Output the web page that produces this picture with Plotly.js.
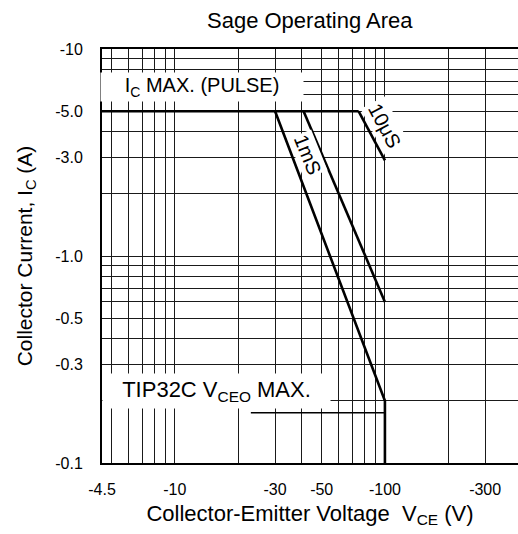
<!DOCTYPE html>
<html>
<head>
<meta charset="utf-8">
<script src="https://cdn.plot.ly/plotly-3.0.1.min.js"></script>
<style>html,body{margin:0;padding:0;background:#fff;}#chart{width:518px;height:534px;}</style>
</head>
<body>
<div id="chart"></div>
<script>
// Magnitudes (the chart labels them as negative values: PNP transistor)
const icMaxV = [4.5, 75];
const icMaxI = [5, 5];
const pulse10usV = [75, 100];
const pulse10usI = [5, 2.9];
const pulse1msV = [41, 100];
const pulse1msI = [5, 0.6];
const dcV = [30, 100, 100];
const dcI = [5, 0.2, 0.1];
const vceoV = [23, 100];
const vceoI = [0.175, 0.175];

const xTickVals = [4.5, 10, 30, 50, 100, 300];
const xTickText = ['-4.5', '-10', '-30', '-50', '-100', '-300'];
const xGridVals = [5, 6, 7, 8, 9, 20, 40, 60, 70, 80, 90, 200];
const yTickVals = [0.1, 0.3, 0.5, 1, 3, 5, 10];
const yTickText = ['-0.1', '-0.3', '-0.5', '-1.0', '-3.0', '-5.0', '-10'];
const yGridVals = [0.2, 0.4, 0.6, 0.7, 0.8, 0.9, 2, 4, 6, 7, 8, 9];

const FONT = 'Liberation Sans, Arial, Helvetica, sans-serif';
const thick = {color: '#000', width: 2.6};
const GRID = '#1a1a1a';

const traces = [
  {x: icMaxV, y: icMaxI, mode: 'lines', line: thick},
  {x: pulse10usV, y: pulse10usI, mode: 'lines', line: thick},
  {x: pulse1msV, y: pulse1msI, mode: 'lines', line: thick},
  {x: dcV, y: dcI, mode: 'lines', line: thick},
  {x: vceoV, y: vceoI, mode: 'lines', line: {color: '#000', width: 1.4}}
];

const axisCommon = {
  type: 'log',
  showgrid: true,
  gridcolor: GRID,
  gridwidth: 1,
  zeroline: false,
  showline: true,
  linecolor: '#000',
  linewidth: 2,
  ticks: '',
  tickmode: 'array',
  tickfont: {family: FONT, size: 16, color: '#000'},
  fixedrange: true
};

const layout = {
  width: 518,
  height: 534,
  margin: {l: 102, r: 0, t: 49, b: 71},
  paper_bgcolor: '#fff',
  plot_bgcolor: '#fff',
  showlegend: false,
  font: {family: FONT, color: '#000'},
  title: {
    text: 'Sage Operating Area',
    font: {family: FONT, size: 22, color: '#000'},
    x: 0.598, xanchor: 'center',
    y: 0.962, yanchor: 'middle', yref: 'container'
  },
  xaxis: Object.assign({}, axisCommon, {
    range: [Math.log10(4.5), Math.log10(430)],
    tickvals: xTickVals,
    ticktext: xTickText,
    minor: {tickmode: 'array', tickvals: xGridVals, showgrid: true, gridcolor: GRID, gridwidth: 1, ticks: ''},
    mirror: true,
    ticklabelstandoff: 11,
    title: {text: 'Collector-Emitter Voltage\u00a0\u00a0V<sub>CE</sub> (V)', font: {family: FONT, size: 22, color: '#000'}, standoff: 8}
  }),
  yaxis: Object.assign({}, axisCommon, {
    range: [-1, 1],
    tickvals: yTickVals,
    ticktext: yTickText,
    minor: {tickmode: 'array', tickvals: yGridVals, showgrid: true, gridcolor: GRID, gridwidth: 1, ticks: ''},
    ticklabelstandoff: 14,
    title: {text: 'Collector Current, I<sub>C</sub> (A)', font: {family: FONT, size: 21, color: '#000'}, standoff: 17}
  }),
  annotations: [
    {xref: 'paper', yref: 'paper', x: 0.24, y: 0.908, xanchor: 'center', yanchor: 'middle',
     text: 'I<sub>C</sub> MAX. (PULSE)', showarrow: false, bgcolor: '#fff', width: 200, height: 26,
     font: {family: FONT, size: 20, color: '#000'}},
    {xref: 'paper', yref: 'paper', x: 0.276, y: 0.174, xanchor: 'center', yanchor: 'middle',
     text: 'TIP32C V<sub>CEO</sub> MAX.', showarrow: false, bgcolor: '#fff', width: 225, height: 32,
     font: {family: FONT, size: 22, color: '#000'}},
    {xref: 'paper', yref: 'paper', x: 0.68, y: 0.814, xanchor: 'center', yanchor: 'middle',
     text: '10\u03bcS', showarrow: false, bgcolor: '#fff', textangle: 62, borderpad: 2,
     font: {family: FONT, size: 20, color: '#000'}},
    {xref: 'paper', yref: 'paper', x: 0.495, y: 0.744, xanchor: 'center', yanchor: 'middle',
     text: '1mS', showarrow: false, bgcolor: '#fff', textangle: 68, borderpad: 1,
     font: {family: FONT, size: 20, color: '#000'}}
  ]
};

Plotly.newPlot('chart', traces, layout, {staticPlot: true, displayModeBar: false});
</script>
</body>
</html>
